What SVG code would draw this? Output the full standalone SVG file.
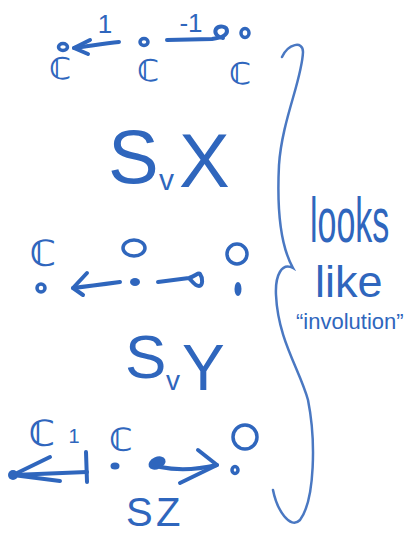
<svg xmlns="http://www.w3.org/2000/svg" width="409" height="537" viewBox="0 0 409 537">
<style>
.ink{fill:none;stroke:#2f66bd;stroke-width:4;stroke-linecap:round;stroke-linejoin:round}
.dot{fill:none;stroke:#2f66bd;stroke-width:3.5}
.fdot{fill:#2f66bd}
.t{fill:#2f66bd;font-family:"DejaVu Sans","Liberation Sans",sans-serif;font-weight:bold}
.h{fill:#2f66bd;font-family:"Liberation Sans","DejaVu Sans",sans-serif}
.brace{fill:none;stroke:#4a78c2;stroke-width:2.5;stroke-linecap:round}
</style>
<rect width="409" height="537" fill="#ffffff"/>

<!-- top row -->
<g id="top-left"><ellipse class="dot" cx="63" cy="47" rx="4.5" ry="3.5"/><text class="t" x="60" y="79" font-size="30" text-anchor="middle">ℂ</text></g>
<g id="top-mid"><ellipse class="dot" cx="144" cy="42" rx="4" ry="3.5"/><text class="t" x="148" y="81" font-size="30" text-anchor="middle">ℂ</text></g>
<g id="top-right"><ellipse class="dot" cx="245" cy="33" rx="4" ry="4.5"/><text class="t" x="240" y="84" font-size="30" text-anchor="middle">ℂ</text></g>

<g id="label-SX"><text class="h" x="108" y="183" font-size="76">S</text><text class="h" x="159" y="190" font-size="30">v</text><text class="h" x="179" y="187" font-size="76">X</text></g>

<!-- middle row -->
<g id="mid-left"><ellipse class="dot" cx="41" cy="288" rx="4" ry="4"/><text class="t" x="43" y="266" font-size="36" text-anchor="middle">ℂ</text></g>
<g id="mid-mid"><ellipse class="fdot" cx="135" cy="282" rx="5" ry="4"/><ellipse class="dot" cx="134" cy="248" rx="11" ry="8"/></g>
<g id="mid-right"><ellipse class="fdot" cx="238" cy="289" rx="3.5" ry="7"/><ellipse class="dot" cx="237" cy="254" rx="10" ry="10"/></g>

<g id="label-SY"><text class="h" x="125" y="378" font-size="62">S</text><text class="h" x="166" y="390" font-size="28">v</text><text class="h" x="182" y="390" font-size="64">Y</text></g>

<!-- bottom row -->
<g id="bot-left"><text class="t" x="42" y="446" font-size="36" text-anchor="middle">ℂ</text></g>
<g id="bot-mid"><ellipse class="fdot" cx="115" cy="466" rx="4.5" ry="3.5"/><text class="t" x="121" y="451" font-size="32" text-anchor="middle">ℂ</text></g>
<g id="bot-right"><ellipse class="dot" cx="235" cy="470" rx="3" ry="3.5"/><ellipse class="dot" cx="245" cy="437" rx="12" ry="12"/></g>

<g id="label-SZ"><text class="h" x="126" y="526" font-size="40">S</text><text class="h" x="156" y="526" font-size="40">Z</text></g>

<!-- connectors -->
<g id="connectors">
<path class="ink" d="M119,42 C105,43 90,46 74,48"/>
<path class="ink" d="M90,40 L74,48 L88,54"/>
<text class="h" x="105" y="33" font-size="26" text-anchor="middle">1</text>

<path class="ink" d="M167,40 L212,39 C220,38 227,36 227,31 C227,26 219,25 216,29 C214,33 217,37 223,38"/>
<text class="h" x="191" y="32" font-size="26" text-anchor="middle">-1</text>

<path class="ink" d="M120,282 C105,284 90,286 73,288"/>
<path class="ink" d="M87,273 L73,288 L83,295"/>

<path class="ink" d="M158,282 L189,278 C196,276 198,272 200,274 C203,278 203,286 199,286 C195,286 192,281 189,278"/>

<path class="ink" d="M13,475 L87,472"/>
<path class="ink" d="M50,457 L13,475 L60,481"/>
<path class="ink" d="M86,452 L87,482" stroke-width="6"/>
<circle class="fdot" cx="13" cy="475" r="5"/>
<text class="h" x="74" y="443" font-size="20" text-anchor="middle">1</text>

<ellipse class="fdot" cx="157" cy="463" rx="9" ry="6" transform="rotate(-25 157 463)"/>
<path class="ink" d="M160,467 C180,471 200,469 217,465"/>
<path class="ink" d="M198,450 L217,465 L180,483"/>
</g>

<!-- brace and note -->
<g id="brace"><path class="brace" d="M282,57 C288,44 303,40 303,52 C302,80 282,120 279,165 C277,205 280,245 293,268 C282,262 275,275 276,295 C278,340 300,370 308,400 C316,440 315,500 300,520 C290,530 277,510 273,490"/></g>
<g id="note">
<text class="h" font-size="34" transform="translate(310,242) scale(1,1.85)">looks</text>
<text class="h" x="315" y="297" font-size="45">like</text>
<text class="h" x="296" y="329" font-size="22">“involution”</text>
</g>
</svg>
